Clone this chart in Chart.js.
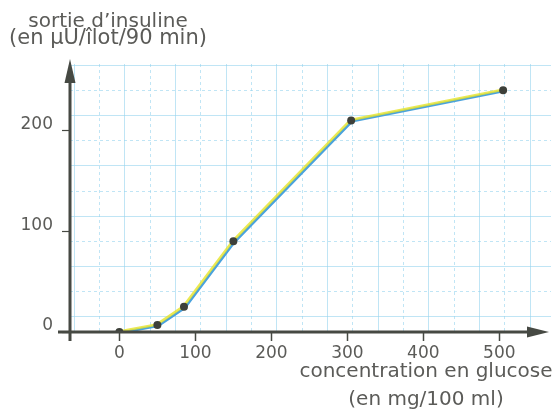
<!DOCTYPE html>
<html>
<head>
<meta charset="utf-8">
<script src="https://cdn.jsdelivr.net/npm/chart.js@4"></script>
<style>
  body { margin: 0; background: #fff; }
</style>
</head>
<body>
<canvas id="chart" width="555" height="414"></canvas>
<script>
// data
const glucose = [0, 50, 85, 150, 305, 505]
const insuline = [0, 7, 25, 90, 210, 240]
const x_ticks = [0, 100, 200, 300, 400, 500]
const y_ticks = [0, 100, 200]

const y_title = ["sortie d\u2019insuline", "(en \u00b5U/\u00eelot/90 min)"]
const x_title = ["concentration en glucose", "(en mg/100 ml)"]

const text_color = '#5b5b58'
const axis_color = '#464943'
const grid_color = 'rgba(150, 212, 238, 0.6)'

const X_MIN = -65, X_MAX = 568
const Y_MIN = 0, Y_MAX = 266

// the paper grid is not aligned on the ticks
const GRID_X0 = 7.3, GRID_DX = 100 / 3
const GRID_Y0 = 14.9, GRID_DY = 25

function grid_values(start, step, lo, hi, even) {
  let out = []
  for (let k = -10; k < 40; k++) {
    let v = start + k * step
    if (v < lo || v > hi) continue
    if ((Math.abs(k) % 2 === 0) === even) out.push({ value: v })
  }
  return out
}

let points = glucose.map((g, i) => ({ x: g, y: insuline[i] }))

// shift the two coloured strokes a little apart like on the printed page
// (chart.js draws the last dataset first)
const shift_lines = {
  id: 'shift_lines',
  beforeDatasetDraw(chart, args) {
    let off = [[0, 0], [-0.5, -0.5], [0.9, 0.9]][args.index]
    chart.ctx.save()
    chart.ctx.translate(off[0], off[1])
  },
  afterDatasetDraw(chart) {
    chart.ctx.restore()
  }
}

const axes_and_titles = {
  id: 'axes_and_titles',
  afterDraw(chart) {
    let ctx = chart.ctx
    let a = chart.chartArea
    let x0 = a.left, y0 = a.bottom
    ctx.save()
    ctx.strokeStyle = axis_color
    ctx.fillStyle = axis_color
    ctx.lineWidth = 3
    // y axis with arrow
    ctx.beginPath()
    ctx.moveTo(x0, y0 + 9)
    ctx.lineTo(x0, 78)
    ctx.stroke()
    ctx.beginPath()
    ctx.moveTo(x0, 59)
    ctx.lineTo(x0 - 5.5, 83)
    ctx.lineTo(x0 + 5.5, 83)
    ctx.closePath()
    ctx.fill()
    // x axis with arrow
    ctx.beginPath()
    ctx.moveTo(58, y0)
    ctx.lineTo(532, y0)
    ctx.stroke()
    ctx.beginPath()
    ctx.moveTo(549, y0)
    ctx.lineTo(527, y0 - 5.5)
    ctx.lineTo(527, y0 + 5.5)
    ctx.closePath()
    ctx.fill()

    // titles
    ctx.fillStyle = text_color
    ctx.font = '20px "DejaVu Sans"'
    ctx.textAlign = 'center'
    ctx.textBaseline = 'alphabetic'
    ctx.fillText(y_title[0], 108, 27)
    ctx.font = '21px "DejaVu Sans"'
    ctx.fillText(y_title[1], 108, 44)
    ctx.font = '20px "DejaVu Sans"'
    ctx.fillText(x_title[0], 426, 377)
    ctx.fillText(x_title[1], 426, 405)
    ctx.restore()
  }
}

function grid_axis(axis, position, start, step, lo, hi, even) {
  return {
    type: 'linear', axis: axis, position: position, min: lo, max: hi,
    afterBuildTicks: s => { s.ticks = grid_values(start, step, lo, hi, even) },
    afterFit: s => { if (axis === 'x') s.height = 0; else s.width = 0 },
    grid: { color: grid_color, lineWidth: 1, drawTicks: false },
    border: { display: false, dash: even ? [] : [3, 3] },
    ticks: { display: false }
  }
}

let chart = new Chart(document.querySelector('#chart'), {
  type: 'scatter',
  data: {
    datasets: [
      {
        data: points, showLine: false, pointRadius: 4, pointHoverRadius: 4,
        pointBackgroundColor: '#3d403a', pointBorderColor: '#3d403a', pointBorderWidth: 0,
        xAxisID: 'x', yAxisID: 'y'
      },
      {
        data: points, showLine: true, borderColor: 'rgba(230, 228, 40, 0.8)', borderWidth: 2.6,
        pointRadius: 0, tension: 0, xAxisID: 'x', yAxisID: 'y'
      },
      {
        data: points, showLine: true, borderColor: '#4aa2dd', borderWidth: 2.6,
        pointRadius: 0, tension: 0, xAxisID: 'x', yAxisID: 'y'
      }
    ]
  },
  options: {
    responsive: false,
    animation: false,
    layout: { padding: { top: 64, left: 0, right: 0, bottom: 0 } },
    plugins: { legend: { display: false }, tooltip: { enabled: false } },
    scales: {
      gx1: grid_axis('x', 'bottom', GRID_X0, GRID_DX, X_MIN, X_MAX, true),
      gx2: grid_axis('x', 'bottom', GRID_X0, GRID_DX, X_MIN, X_MAX, false),
      gy1: grid_axis('y', 'left', GRID_Y0, GRID_DY, Y_MIN, Y_MAX, true),
      gy2: grid_axis('y', 'left', GRID_Y0, GRID_DY, Y_MIN, Y_MAX, false),
      x: {
        type: 'linear', position: 'bottom', min: X_MIN, max: X_MAX,
        afterBuildTicks: s => { s.ticks = x_ticks.map(v => ({ value: v })) },
        afterFit: s => { s.height = 82 },
        grid: { drawOnChartArea: false, drawTicks: true, tickLength: 9, tickColor: axis_color, tickWidth: 1.5 },
        border: { display: false },
        ticks: {
          font: { family: 'DejaVu Sans', size: 17 }, color: text_color,
          padding: 2, maxRotation: 0, autoSkip: false
        }
      },
      y: {
        type: 'linear', position: 'left', min: Y_MIN, max: Y_MAX,
        afterBuildTicks: s => { s.ticks = y_ticks.map(v => ({ value: v })) },
        afterFit: s => { s.width = 70 },
        grid: { drawOnChartArea: false, drawTicks: true, tickLength: 8, tickColor: axis_color, tickWidth: 1.2 },
        border: { display: false },
        ticks: {
          font: { family: 'DejaVu Sans', size: 17 }, color: text_color,
          padding: 9, labelOffset: -6
        }
      }
    }
  },
  plugins: [shift_lines, axes_and_titles]
})
</script>
</body>
</html>
